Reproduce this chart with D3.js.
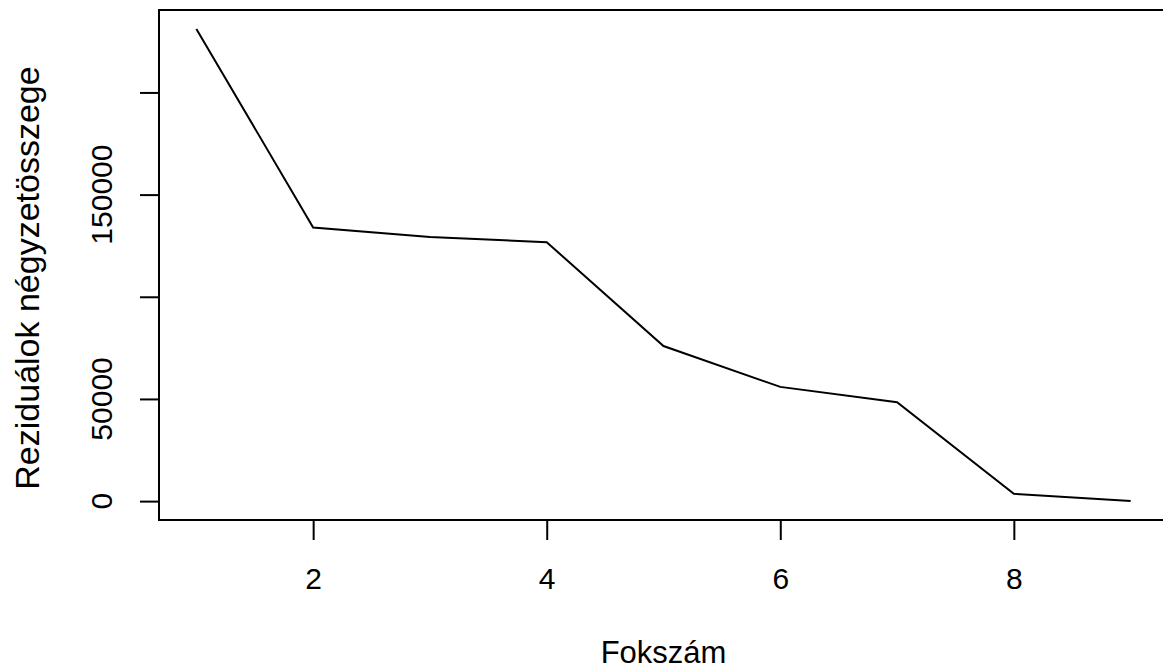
<!DOCTYPE html>
<html>
<head>
<meta charset="utf-8">
<script src="https://cdn.jsdelivr.net/npm/d3@7"></script>
<style>
  body { margin: 0; background: #fff; }
  svg text { font-family: "Liberation Sans", Arial, sans-serif; fill: #000; }
</style>
</head>
<body>
<svg id="chart" width="1163" height="670"></svg>
<script>
const fokszam = [1, 2, 3, 4, 5, 6, 7, 8, 9];
const rss = [231100, 133900, 129300, 126700, 75900, 55900, 48400, 3600, 0];
const xTicks = [2, 4, 6, 8];
const yTicks = [0, 50000, 100000, 150000, 200000];
const yLabels = [0, 50000, 150000];

const svg = d3.select('#chart');
const plotLeft = 159, plotRight = 1168, plotTop = 10, plotBottom = 520;
const fontSize = '30px';

// R style 4% padding of the data range
const xPad = (d3.max(fokszam) - d3.min(fokszam)) * 0.04;
const yPad = (d3.max(rss) - d3.min(rss)) * 0.04;

const x = d3.scaleLinear()
    .domain([d3.min(fokszam) - xPad, d3.max(fokszam) + xPad])
    .range([plotLeft, plotRight]);
const y = d3.scaleLinear()
    .domain([d3.min(rss) - yPad, d3.max(rss) + yPad])
    .range([plotBottom, plotTop]);

// plot box
svg.append('rect')
    .attr('x', plotLeft).attr('y', plotTop)
    .attr('width', plotRight - plotLeft).attr('height', plotBottom - plotTop)
    .attr('fill', 'none').attr('stroke', '#000').attr('stroke-width', 2);

// x axis
const xAxis = svg.append('g')
    .attr('transform', `translate(0, ${plotBottom})`)
    .call(d3.axisBottom(x).tickValues(xTicks).tickSize(20).tickFormat(d3.format('d')));
xAxis.select('.domain')
    .attr('d', `M${x(xTicks[0])},0H${x(xTicks[xTicks.length - 1])}`)
    .attr('stroke-width', 2);
xAxis.selectAll('.tick line').attr('stroke-width', 2);
xAxis.selectAll('.tick text')
    .attr('y', 69).attr('dy', 0)
    .attr('font-family', null)
    .style('font-size', fontSize);

// y axis
const yAxis = svg.append('g')
    .attr('transform', `translate(${plotLeft}, 0)`)
    .call(d3.axisLeft(y).tickValues(yTicks).tickSize(19).tickFormat(''));
yAxis.select('.domain')
    .attr('d', `M0,${y(yTicks[0])}V${y(yTicks[yTicks.length - 1])}`)
    .attr('stroke-width', 2);
yAxis.selectAll('.tick line').attr('stroke-width', 2);

svg.append('g').selectAll('text')
    .data(yLabels)
    .join('text')
    .attr('transform', d => `translate(112, ${y(d)}) rotate(-90)`)
    .attr('text-anchor', 'middle')
    .style('font-size', fontSize)
    .text(d => d);

// line
const line = d3.line()
    .x((d, i) => x(fokszam[i]))
    .y(d => y(d));
svg.append('path')
    .datum(rss)
    .attr('d', line)
    .attr('fill', 'none')
    .attr('stroke', '#000')
    .attr('stroke-width', 2);

// axis titles
svg.append('text')
    .attr('x', (plotLeft + plotRight) / 2)
    .attr('y', 663)
    .attr('text-anchor', 'middle')
    .style('font-size', '31px')
    .text('Fokszám');

svg.append('text')
    .attr('transform', 'translate(39, 278) rotate(-90)')
    .attr('text-anchor', 'middle')
    .style('font-size', '34px')
    .text('Reziduálok négyzetösszege');
</script>
</body>
</html>
